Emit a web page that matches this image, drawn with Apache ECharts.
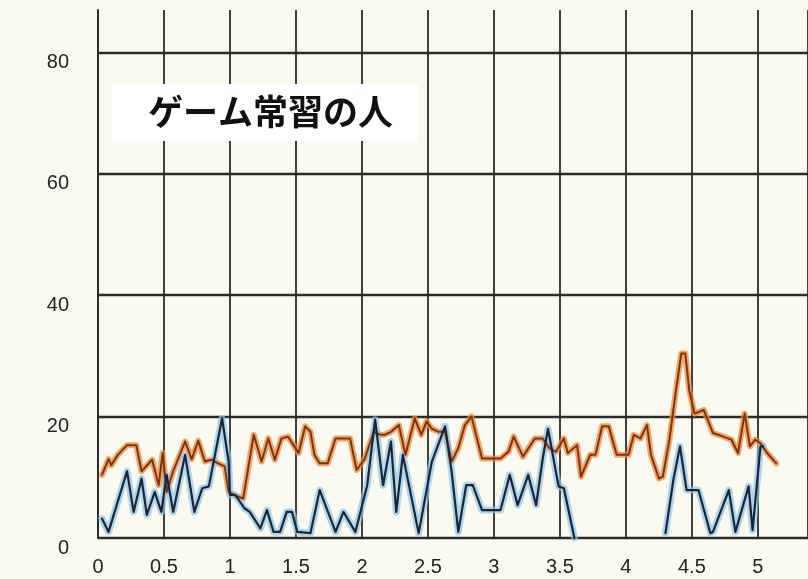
<!DOCTYPE html>
<html>
<head>
<meta charset="utf-8">
<title>ゲーム常習の人</title>
<script src="https://cdn.jsdelivr.net/npm/echarts@6/dist/echarts.min.js"></script>
<style>
  html, body { margin: 0; padding: 0; background: #fbfaf0; }
  #chart { width: 808px; height: 579px; }
</style>
</head>
<body>
<div id="chart"></div>
<script>
// x = time, y = value
const orangeData = [
  [0.03, 10.4], [0.08, 13], [0.10, 12], [0.15, 13.7], [0.22, 15.3], [0.29, 15.3],
  [0.33, 11], [0.41, 12.9], [0.46, 8.7], [0.49, 14], [0.52, 7.6], [0.57, 11],
  [0.66, 15.9], [0.71, 13], [0.76, 16], [0.81, 12.6], [0.86, 12.9], [0.91, 12.3],
  [0.96, 11.8], [0.99, 7.6], [1.04, 7], [1.10, 6.5], [1.18, 17], [1.24, 12.6],
  [1.29, 16.4], [1.34, 12.9], [1.39, 16.4], [1.44, 16.7], [1.52, 14], [1.57, 18.4],
  [1.61, 17.5], [1.64, 13.7], [1.68, 12.3], [1.74, 12.3], [1.80, 16.4], [1.91, 16.4],
  [1.96, 11.2], [2.02, 13], [2.09, 17.5], [2.14, 17], [2.17, 17], [2.22, 17.5],
  [2.28, 18.6], [2.33, 13.7], [2.40, 19.7], [2.45, 17], [2.49, 19.2], [2.53, 18],
  [2.58, 17.5], [2.63, 17.5], [2.68, 12.6], [2.73, 14.8], [2.78, 18.6], [2.83, 20],
  [2.91, 13.1], [3.05, 13.1], [3.11, 14.2], [3.15, 16.7], [3.22, 13.4], [3.31, 16.4],
  [3.37, 16.4], [3.42, 14.8], [3.47, 14.2], [3.53, 16.4], [3.56, 14], [3.63, 15.3],
  [3.66, 10.1], [3.73, 13.7], [3.77, 13.7], [3.82, 18.4], [3.87, 18.4], [3.93, 13.7],
  [4.02, 13.7], [4.06, 17], [4.11, 16.4], [4.16, 18.6], [4.19, 13.7], [4.25, 9.8],
  [4.28, 10.1], [4.33, 16.2], [4.38, 24.4], [4.42, 30.4], [4.45, 30.4], [4.48, 24.4],
  [4.52, 20.5], [4.59, 21.1], [4.66, 17.3], [4.74, 16.7], [4.80, 16.2], [4.85, 14],
  [4.90, 20.5], [4.94, 15.1], [4.98, 16.2], [5.02, 15.6], [5.07, 14], [5.14, 12.3]
];

const blueData = [
  [0.03, 3.2], [0.08, 1], [0.22, 11], [0.27, 4.3], [0.33, 9.8], [0.37, 3.8],
  [0.43, 7.6], [0.48, 4.3], [0.52, 10.4], [0.57, 4.3], [0.66, 13.7], [0.73, 4.3],
  [0.79, 8.2], [0.84, 8.5], [0.94, 19.7], [0.99, 12.6], [1.00, 7.1], [1.04, 7.1],
  [1.11, 4.9], [1.15, 4.3], [1.23, 1.6], [1.28, 4.6], [1.33, 1], [1.38, 1],
  [1.43, 4.3], [1.47, 4.3], [1.51, 1], [1.61, 0.8], [1.68, 7.9], [1.80, 1],
  [1.86, 4.3], [1.95, 1], [2.04, 8.7], [2.10, 19.5], [2.16, 8.7], [2.22, 15.9],
  [2.26, 4.3], [2.31, 13.7], [2.43, 0.8], [2.53, 12.6], [2.63, 18.4], [2.68, 10.9],
  [2.73, 1], [2.79, 8.7], [2.84, 8.7], [2.91, 4.6], [3.05, 4.6], [3.12, 10.4],
  [3.18, 5.4], [3.26, 10.4], [3.32, 5.4], [3.37, 13.1], [3.41, 18], [3.49, 8.5],
  [3.53, 8.2], [3.61, 0], [3.95, '-'],
  [4.30, 0.8], [4.36, 9.6], [4.41, 15.1], [4.46, 7.9], [4.55, 7.9], [4.64, 0.8],
  [4.66, 1], [4.78, 7.9], [4.83, 1], [4.93, 8.5], [4.96, 1.3], [5.02, 15.1], [5.04, 15.1]
];

const yTicks = [0, 20, 40, 60, 80];
const xTicks = [0, 0.5, 1, 1.5, 2, 2.5, 3, 3.5, 4, 4.5, 5];
const title = 'ゲーム常習の人';

const chart = echarts.init(document.getElementById('chart'));

const gridLine = '#2b2b2b';

function line(data, color, width, opacity, z) {
  return {
    type: 'line',
    data: data,
    symbol: 'none',
    smooth: false,
    connectNulls: false,
    z: z,
    lineStyle: { color: color, width: width, opacity: opacity, join: 'round', cap: 'round' }
  };
}

const option = {
  backgroundColor: '#fbfaf0',
  animation: false,
  grid: { left: 98, right: 0, top: 10, bottom: 41 },
  xAxis: {
    type: 'value',
    min: 0,
    max: 5.38,
    interval: 0.5,
    axisLine: { show: true, lineStyle: { color: gridLine, width: 2 } },
    axisTick: { show: false },
    axisLabel: {
      margin: 19,
      color: '#222',
      fontSize: 20,
      fontFamily: 'Liberation Sans, Arial, sans-serif',
      showMaxLabel: false,
      formatter: v => xTicks.indexOf(v) >= 0 ? String(v) : ''
    },
    splitLine: { show: true, lineStyle: { color: gridLine, width: 1.8 } }
  },
  yAxis: {
    type: 'value',
    min: 0,
    max: 87,
    interval: 20,
    axisLine: { show: true, lineStyle: { color: gridLine, width: 2 } },
    axisTick: { show: false },
    axisLabel: {
      margin: 29,
      color: '#222',
      fontSize: 20,
      fontFamily: 'Liberation Sans, Arial, sans-serif',
      verticalAlign: 'top',
      showMaxLabel: false,
      formatter: v => yTicks.indexOf(v) >= 0 ? String(v) : ''
    },
    splitLine: {
      show: true,
      lineStyle: {
        color: [gridLine, gridLine, gridLine, gridLine, gridLine, 'rgba(0,0,0,0)'],
        width: 2.4
      }
    }
  },
  graphic: [{
    type: 'text',
    left: 112,
    top: 84,
    z: 100,
    style: {
      text: title,
      font: 'bold 35px "Noto Sans CJK JP", sans-serif',
      fill: '#111',
      backgroundColor: '#ffffff',
      padding: [10, 25, 12, 36]
    }
  }],
  series: [
    // highlighter underlay
    line(orangeData, '#ee8a3a', 6, 0.75, 2),
    line(blueData, '#8cc4ea', 7, 0.7, 2),
    // pen lines
    line(orangeData, '#7e3413', 2, 1, 3),
    line(blueData, '#1b2536', 2.2, 1, 4)
  ]
};

chart.setOption(option);
</script>
</body>
</html>
